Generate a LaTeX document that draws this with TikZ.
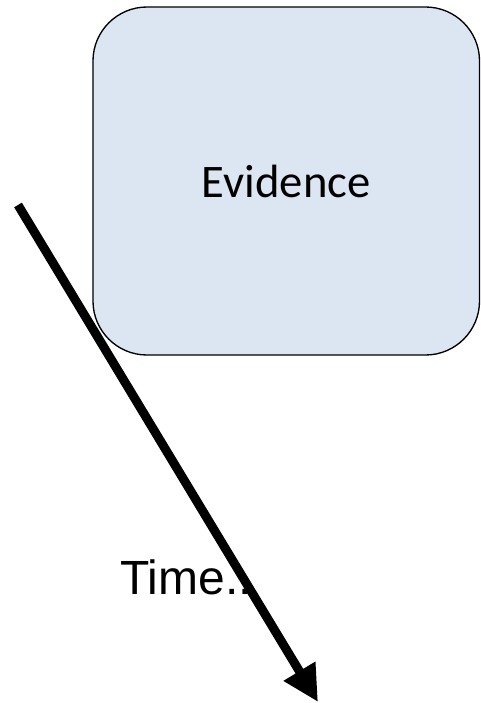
\documentclass[tikz,border=0pt]{standalone}
\usepackage{fontspec}
\setmainfont{Carlito}
\newfontfamily\arialfont{Liberation Sans}
\usepackage{xcolor}
\usetikzlibrary{arrows.meta, positioning}
\definecolor{evblue}{RGB}{220,230,242}

\begin{document}
\begin{tikzpicture}[
    x=0.75pt, y=-0.75pt,
    evbox/.style={
        rectangle,
        rounded corners=40.5pt,
        minimum width=289.9pt,
        minimum height=261pt,
        inner sep=0pt,
        draw=black,
        line width=1pt,
        fill=evblue,
        align=center,
        font=\fontsize{35}{42}\selectfont
    },
    label/.style={
        inner sep=0pt,
        font=\arialfont\fontsize{36}{43}\selectfont
    },
    timearrow/.style={
        line width=6.75pt,
        -{Triangle[length=27pt, width=26pt]}
    }
]
\useasboundingbox (0,0) rectangle (481,703);

% Evidence box
\node[evbox] (evidence) at (286.25,181) {Evidence};

% Time label
\node[label, anchor=base west] (time) at (120,594) {Time..};

% Time arrow
\coordinate (tstart) at (18,205);
\coordinate (tend) at (318,702);
\draw[timearrow] (tstart) -- (tend);

\end{tikzpicture}
\end{document}
